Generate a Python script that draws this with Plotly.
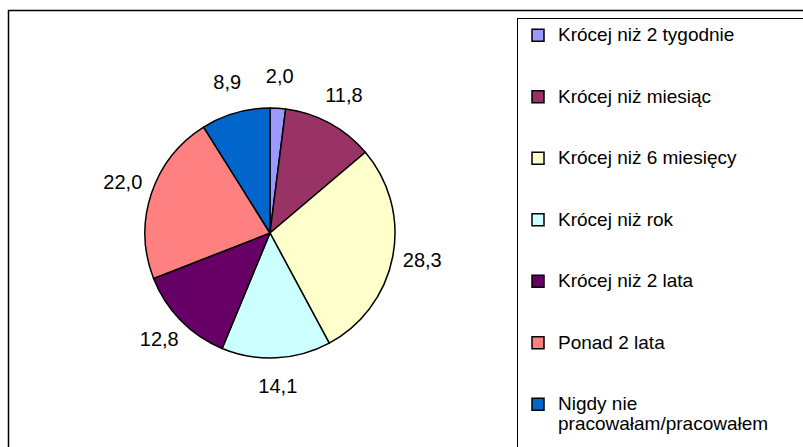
import plotly.graph_objects as go

categories = [
    "Krócej niż 2 tygodnie",
    "Krócej niż miesiąc",
    "Krócej niż 6 miesięcy",
    "Krócej niż rok",
    "Krócej niż 2 lata",
    "Ponad 2 lata",
    "Nigdy nie<br>pracowałam/pracowałem",
]
values = [2.0, 11.8, 28.3, 14.1, 12.8, 22.0, 8.9]
colors = ["#9999FF", "#993366", "#FFFFCC", "#CCFFFF", "#660066", "#FF8080", "#0066CC"]

W, H = 803, 447
FONT = "Arial, Liberation Sans, sans-serif"
NBSP = "\u00a0"

# legend labels: larger visible text, blank lines give the Excel-like spacing
legend_labels = []
for i, c in enumerate(categories):
    txt = '<span style="font-size:19px">' + c.replace("<br>", '</span><br><span style="font-size:19px">') + "</span>"
    if i < len(categories) - 1:
        txt += "<br> <br> "
    else:
        # invisible padding: the legend box runs past the right edge as in the original
        txt += "<br>" + NBSP * 75
    legend_labels.append(txt)

cx, cy, r = 270, 233, 125          # pie centre / radius in px
R_POLAR = 170                      # radius of the label (polar) frame in px
LABEL_R = 1.24                     # label distance in units of the pie radius

# mid angle of each slice (clockwise from 12 o'clock), from the data
total = sum(values)
mid_theta = []
acc = 0.0
for v in values:
    mid_theta.append((acc + v / 2) / total * 360)
    acc += v

fig = go.Figure()
fig.add_trace(
    go.Pie(
        labels=legend_labels,
        values=values,
        sort=False,
        direction="clockwise",
        rotation=0,
        marker=dict(colors=colors, line=dict(color="black", width=1.5)),
        textinfo="none",
        hoverinfo="value",
        domain=dict(
            x=[(cx - r) / W, (cx + r) / W],
            y=[(H - cy - r) / H, (H - cy + r) / H],
        ),
        showlegend=True,
    )
)
fig.add_trace(
    go.Scatterpolar(
        r=[LABEL_R] * len(values),
        theta=mid_theta,
        mode="text",
        text=[f"{v:.1f}".replace(".", ",") for v in values],
        textposition="middle center",
        textfont=dict(family=FONT, size=20, color="black"),
        showlegend=False,
        hoverinfo="skip",
        cliponaxis=False,
    )
)

fig.update_layout(
    width=W,
    height=H,
    margin=dict(l=0, r=0, t=0, b=0, autoexpand=False),
    paper_bgcolor="white",
    plot_bgcolor="white",
    separators=", ",
    font=dict(family=FONT, color="black"),
    polar=dict(
        domain=dict(
            x=[(cx - R_POLAR) / W, (cx + R_POLAR) / W],
            y=[(H - cy - R_POLAR) / H, (H - cy + R_POLAR) / H],
        ),
        bgcolor="rgba(0,0,0,0)",
        radialaxis=dict(range=[0, R_POLAR / r], visible=False),
        angularaxis=dict(rotation=90, direction="clockwise", visible=False),
    ),
    legend=dict(
        x=517 / W,
        y=1 - 18 / H,
        xanchor="left",
        yanchor="top",
        bordercolor="black",
        borderwidth=1,
        bgcolor="white",
        font=dict(family=FONT, size=15, color="black"),
        valign="top",
        maxheight=2000,
    ),
    shapes=[
        dict(
            type="rect",
            xref="paper",
            yref="paper",
            x0=8.5 / W,
            x1=1.1,
            y0=-0.1,
            y1=1 - 10.5 / H,
            line=dict(color="black", width=1.5),
            fillcolor="rgba(0,0,0,0)",
            layer="below",
        )
    ],
)

fig.write_html(
    "out.html",
    config={"displayModeBar": False},
    post_script="document.body.style.margin='0';",
)
